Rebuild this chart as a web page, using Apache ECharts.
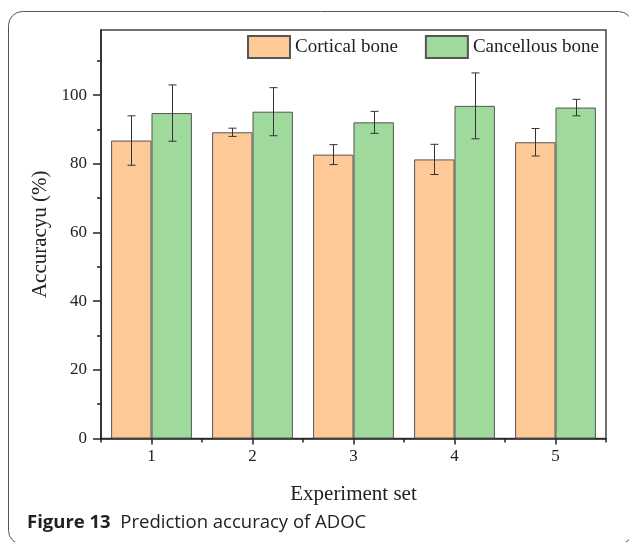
<!DOCTYPE html>
<html><head><meta charset="utf-8">
<script src="https://cdn.jsdelivr.net/npm/echarts@6/dist/echarts.min.js"></script>
<style>html,body{margin:0;padding:0;background:#fff}#c{width:629px;height:542px}</style>
</head><body><div id="c"></div>
<script>
const categories = ['1', '2', '3', '4', '5'];
const corticalMean = [86.8, 89.2, 82.7, 81.3, 86.3];
const corticalErr = [7.2, 1.2, 2.9, 4.4, 4.0];
const cancellousMean = [94.8, 95.2, 92.1, 96.9, 96.4];
const cancellousErr = [8.2, 7.0, 3.2, 9.6, 2.4];
const yMajorTicks = [0, 20, 40, 60, 80, 100];
const yMinorTicks = [10, 30, 50, 70, 90, 110];
const seriesNames = ['Cortical bone', 'Cancellous bone'];
const xName = 'Experiment set';
const yName = 'Accuracyu (%)';
const captionBold = 'Figure 13';
const captionText = 'Prediction accuracy of ADOC';

const serif = 'Liberation Serif, Times New Roman, serif';
const chart = echarts.init(document.getElementById('c'), null, {renderer: 'canvas'});

const errData = [];
categories.forEach((c, i) => {
  errData.push([i, corticalMean[i], corticalErr[i], 0]);
  errData.push([i, cancellousMean[i], cancellousErr[i], 1]);
});

function renderErr(params, api) {
  const i = api.value(0), m = api.value(1), e = api.value(2), s = api.value(3);
  const band = api.size([1, 0])[0];
  const off = (s === 0 ? -0.2 : 0.2) * band;
  const top = api.coord([i, m + e]);
  const bot = api.coord([i, m - e]);
  const x = Math.round(top[0] + off) + 0.5;
  const cap = 4;
  const st = {stroke: '#333', lineWidth: 1};
  return {type: 'group', children: [
    {type: 'line', shape: {x1: x, y1: top[1], x2: x, y2: bot[1]}, style: st},
    {type: 'line', shape: {x1: x - cap, y1: top[1], x2: x + cap, y2: top[1]}, style: st},
    {type: 'line', shape: {x1: x - cap, y1: bot[1], x2: x + cap, y2: bot[1]}, style: st}
  ]};
}

const axisColor = '#222';
chart.setOption({
  animation: false,
  backgroundColor: '#fff',
  grid: {left: 101, right: 23, top: 30, bottom: 103.5, show: true, borderColor: '#444', borderWidth: 1.5, backgroundColor: 'transparent'},
  legend: {
    left: 247, top: 35, padding: 0, itemGap: 27, itemWidth: 42, itemHeight: 22,
    icon: 'rect',
    data: seriesNames,
    textStyle: {fontFamily: serif, fontSize: 19, color: '#222', padding: [0, 0, 0, 0]}
  },
  xAxis: [{
    type: 'category', data: categories, position: 'bottom',
    axisLine: {show: true, lineStyle: {color: axisColor, width: 1.5}},
    axisTick: {show: true, alignWithLabel: true, length: 6, inside: false, lineStyle: {color: axisColor, width: 1.5}},
    axisLabel: {fontFamily: serif, fontSize: 17, color: '#222', margin: 10},
    splitLine: {show: false},
    name: xName, nameLocation: 'middle', nameGap: 45,
    nameTextStyle: {fontFamily: serif, fontSize: 21, color: '#222'}
  }, {
    type: 'category', data: categories, position: 'bottom', offset: 0,
    axisLine: {show: false},
    axisTick: {show: true, alignWithLabel: false, length: 4, lineStyle: {color: axisColor, width: 1.5}},
    axisLabel: {show: false},
    splitLine: {show: false}
  }],
  yAxis: [{
    type: 'value', min: 0, max: 119, position: 'left',
    axisLine: {show: true, lineStyle: {color: axisColor, width: 1.5}},
    axisTick: {show: true, customValues: yMajorTicks, length: 8, lineStyle: {color: axisColor, width: 1.5}},
    axisLabel: {customValues: yMajorTicks, fontFamily: serif, fontSize: 17, color: '#222', margin: 14},
    splitLine: {show: false},
    name: yName, nameLocation: 'middle', nameGap: 45,
    nameTextStyle: {fontFamily: serif, fontSize: 21, color: '#222'}
  }, {
    type: 'value', min: 0, max: 119, position: 'left', offset: 0,
    axisLine: {show: false},
    axisTick: {show: true, customValues: yMinorTicks, length: 4, lineStyle: {color: axisColor, width: 1.5}},
    axisLabel: {show: false},
    splitLine: {show: false}
  }],
  series: [{
    name: seriesNames[0], type: 'bar', data: corticalMean,
    barGap: '0%', barCategoryGap: '20%',
    itemStyle: {color: '#FDC997', borderColor: '#555', borderWidth: 1}
  }, {
    name: seriesNames[1], type: 'bar', data: cancellousMean,
    barGap: '0%', barCategoryGap: '20%',
    itemStyle: {color: '#9FD99B', borderColor: '#555', borderWidth: 1}
  }, {
    type: 'custom', renderItem: renderErr, data: errData,
    encode: {x: 0, y: 1}, z: 5, silent: true
  }],
  graphic: [{
    type: 'rect', silent: true, z: -10,
    shape: {x: 8.5, y: 11.5, width: 624, height: 533, r: 14},
    style: {fill: 'none', stroke: '#555', lineWidth: 1}
  }, {
    type: 'text', left: 27, top: 513,
    style: {
      text: '{b|' + captionBold + '}  ' + captionText,
      fontFamily: 'Open Sans, Noto Sans, sans-serif', fontSize: 18.5, fill: '#222',
      rich: {b: {fontFamily: 'Open Sans, Noto Sans, sans-serif', fontWeight: 'bold', fontSize: 18.5, fill: '#222'}}
    }
  }]
});
</script>
</body></html>
